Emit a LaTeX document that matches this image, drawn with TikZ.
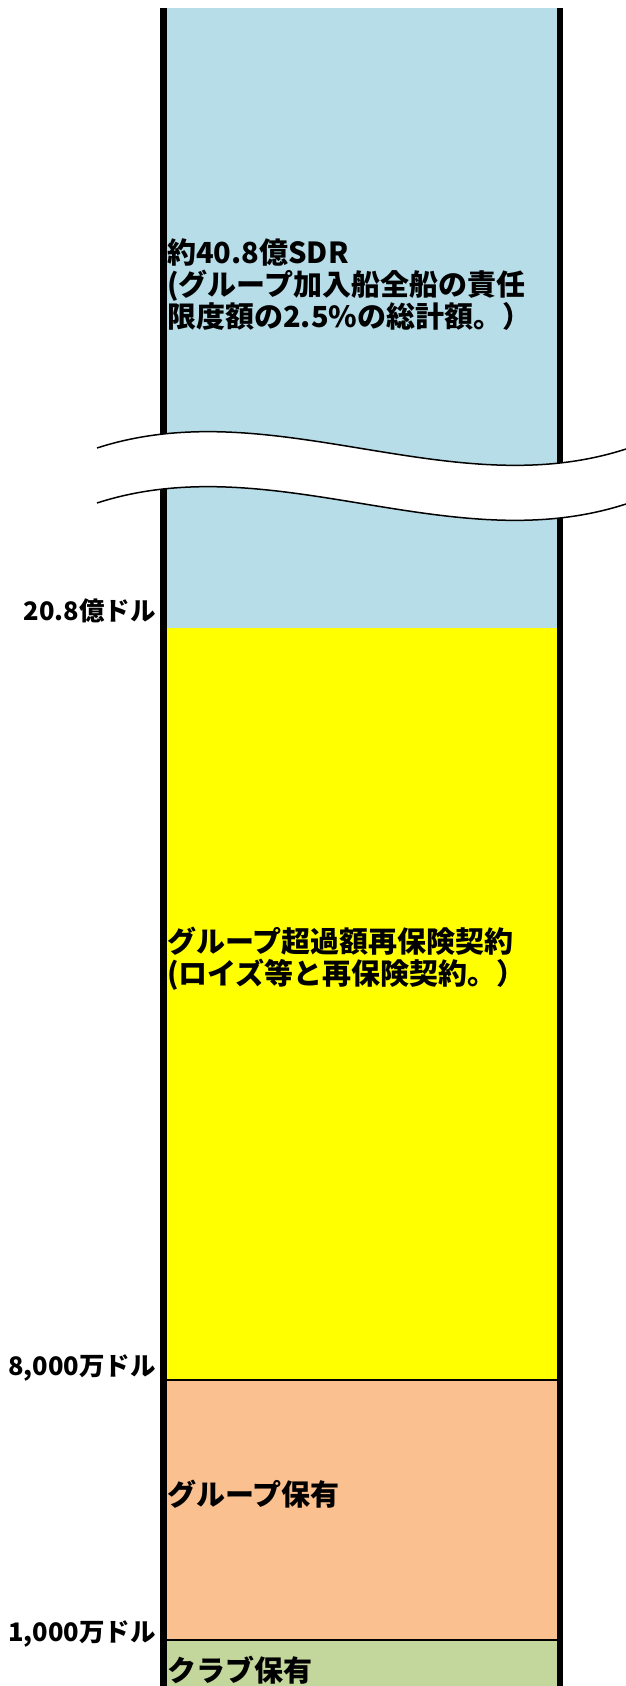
\documentclass[tikz,border=0pt]{standalone}
\usepackage{fontspec}
\setmainfont{Noto Sans CJK JP}
\usetikzlibrary{positioning}
\definecolor{sdrblue}{HTML}{B7DDE8}
\definecolor{xsyellow}{HTML}{FFFF00}
\definecolor{grppeach}{HTML}{FAC090}
\definecolor{clubgreen}{HTML}{C3D69B}
\tikzset{
	bar/.style={line width=6.5pt},
	sepline/.style={line width=2.5pt},
	wave/.style={line width=1.5pt},
	lvl/.style={font=\fontsize{25.5}{25.5}\selectfont\bfseries, anchor=base east, inner sep=0pt},
	layer/.style={font=\fontsize{29}{32}\selectfont\bfseries, anchor=base west, align=left, inner sep=0pt},
}

\begin{document}
\begin{tikzpicture}[x=1pt,y=-1pt]
\useasboundingbox (0,0) rectangle (626,1686);
\fill[white] (0,0) rectangle (626,1686);
\fill[sdrblue] (163.5,8) rectangle (560,628);
\fill[xsyellow] (163.5,628) rectangle (560,1380);
\fill[grppeach] (163.5,1380) rectangle (560,1640);
\fill[clubgreen] (163.5,1640) rectangle (560,1686);
\draw[sepline] (163.5,1380) -- (560,1380);
\draw[sepline] (163.5,1640) -- (560,1640);
\draw[bar] (163.5,8) -- (163.5,1686);
\draw[bar] (560,8) -- (560,1686);
\fill[white] (97,448) .. controls (273,391) and (450,506) .. (626,449)
	-- (626,504) .. controls (450,561) and (273,446) .. (97,503) -- cycle;
\draw[wave] (97,448) .. controls (273,391) and (450,506) .. (626,449);
\draw[wave] (97,503) .. controls (273,446) and (450,561) .. (626,504);
\node[lvl] (l208) at (156,620) {20.8億ドル};
\node[lvl] (l8000) at (156,1375) {8,000万ドル};
\node[lvl] (l1000) at (156,1641) {1,000万ドル};
\node[layer] (sdr) at (167,327) {約40.8億SDR\\(グループ加入船全船の責任\\限度額の2.5\%の総計額。）};
\node[layer] (xs) at (167,984) {グループ超過額再保険契約\\(ロイズ等と再保険契約。）};
\node[layer] (grp) at (167,1505) {グループ保有};
\node[layer] (club) at (167,1681) {クラブ保有};
\end{tikzpicture}
\end{document}
